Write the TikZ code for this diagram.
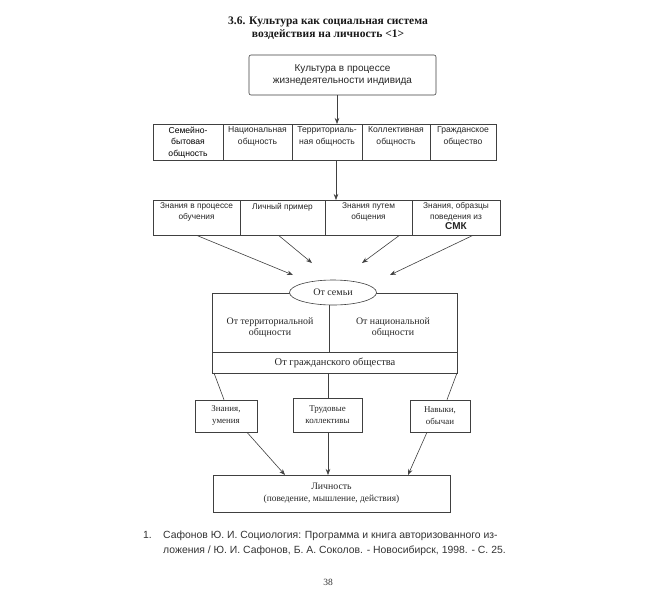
\documentclass[tikz,border=0pt]{standalone}
\usepackage{fontspec}
\setmainfont{Liberation Serif}
\newfontfamily\sansf{Liberation Sans}
\usetikzlibrary{arrows.meta,shapes.geometric}
\begin{document}
\begin{tikzpicture}[x=1pt,y=-1pt,
  ln/.style={draw=black!75,line width=0.6pt},
  arr/.style={ln,-{Stealth[length=6pt,width=4.5pt]}},
  cell/.style={ln,inner sep=0pt},
  sft/.style={font=\sansf\fontsize{8.3}{10.5}\selectfont,align=center,inner sep=0pt,text=black!85,anchor=north},
  srt/.style={font=\fontsize{9.9}{11}\selectfont,align=center,inner sep=0pt,text=black!85},
  kbox/.style={ln,inner sep=0pt,align=center,font=\fontsize{8.9}{12}\selectfont,text=black!85},
]
\useasboundingbox[fill=white] (0,0) rectangle (650,611);

% title
\node[font=\bfseries\fontsize{11.5}{12.5}\selectfont,align=center,inner sep=0pt,text=black!90] (title) at (328,28)
  {3.6. Культура как социальная система\\воздействия на личность <1>};

% top box
\node[ln,rounded corners=2pt,minimum width=187pt,minimum height=40pt,inner sep=0pt,
      font=\sansf\fontsize{10}{12}\selectfont,align=center,text=black!85] (top) at (342.5,75)
  {Культура в процессе\\жизнедеятельности индивида};

% row 1
\node[cell,minimum width=70pt,minimum height=36pt] (r1a) at (188,142) {};
\node[cell,minimum width=69pt,minimum height=36pt] (r1b) at (257.5,142) {};
\node[cell,minimum width=70pt,minimum height=36pt] (r1c) at (327,142) {};
\node[cell,minimum width=68pt,minimum height=36pt] (r1d) at (396,142) {};
\node[cell,minimum width=66pt,minimum height=36pt] (r1e) at (463,142) {};
\node[sft,font=\sansf\fontsize{8.6}{11.5}\selectfont,text=black] (t1a) at ([yshift=-3pt]r1a.north) {Семейно-\\бытовая\\общность};
\node[sft,font=\sansf\fontsize{8.6}{11.5}\selectfont] (t1b) at ([yshift=-3pt]r1b.north) {Национальная\\общность};
\node[sft,font=\sansf\fontsize{8.6}{11.5}\selectfont] (t1c) at ([yshift=-3pt]r1c.north) {Территориаль-\\ная общность};
\node[sft,font=\sansf\fontsize{8.6}{11.5}\selectfont] (t1d) at ([yshift=-3pt]r1d.north) {Коллективная\\общность};
\node[sft,font=\sansf\fontsize{8.6}{11.5}\selectfont] (t1e) at ([yshift=-3pt]r1e.north) {Гражданское\\общество};

% row 2
\node[cell,minimum width=87pt,minimum height=35pt] (r2a) at (196.5,217.5) {};
\node[cell,minimum width=85pt,minimum height=35pt] (r2b) at (282.5,217.5) {};
\node[cell,minimum width=87pt,minimum height=35pt] (r2c) at (368.5,217.5) {};
\node[cell,minimum width=88pt,minimum height=35pt] (r2d) at (456,217.5) {};
\node[sft] (t2a) at ([yshift=-3pt]r2a.north) {Знания в процессе\\обучения};
\node[sft] (t2b) at ([yshift=-3pt]r2b.north) {Личный пример};
\node[sft] (t2c) at ([yshift=-3pt]r2c.north) {Знания путем\\общения};
\node[sft] (t2d) at ([yshift=-3pt]r2d.north) {Знания, образцы\\поведения из\\{\fontsize{10}{12}\selectfont\bfseries СМК}};

% arrows top -> row1 -> row2
\coordinate (a0) at (337,95);
\coordinate (a1) at (337,124);
\coordinate (b0) at (336,160);
\coordinate (b1) at (336,200);
\draw[arr] (a0) -- (a1);
\draw[arr] (b0) -- (b1);

% big box
\node[cell,minimum width=245pt,minimum height=80pt] (big) at (334.5,333) {};
\coordinate (hl) at (212,352);
\coordinate (hr) at (457,352);
\draw[ln] (hl) -- (hr);
\node[ellipse,ln,fill=white,minimum width=87pt,minimum height=25pt,inner sep=0pt,font=\fontsize{10}{11}\selectfont,text=black!85] (fam) at (333,292.5) {От семьи};
\coordinate (vd) at (329,352);
\draw[ln] (fam.south -| vd) -- (vd);
\node[srt] (terr) at (270,328) {От территориальной\\общности};
\node[srt] (nat) at (393,328) {От национальной\\общности};
\node[srt,font=\fontsize{10.5}{11}\selectfont] (civ) at (335,362.5) {От гражданского общества};

% arrows row2 -> ellipse
\coordinate (e1) at (293,275);
\coordinate (e2) at (312,263);
\coordinate (e3) at (362,263);
\coordinate (e4) at (390,275);
\draw[arr] (r2a.south) -- (e1);
\draw[arr] ([xshift=-4pt]r2b.south) -- (e2);
\draw[arr] ([xshift=31pt]r2c.south) -- (e3);
\draw[arr] ([xshift=17pt]r2d.south) -- (e4);

% row 3
\node[kbox,minimum width=62pt,minimum height=32pt] (k1) at (226,416) {Знания,\\умения};
\node[kbox,minimum width=69pt,minimum height=34pt] (k2) at (327.5,415) {Трудовые\\коллективы};
\node[kbox,minimum width=60pt,minimum height=32pt] (k3) at (440,416) {Навыки,\\обычаи};

\coordinate (l1) at (214,373);
\coordinate (l3) at (457,373);
\coordinate (m2) at (328,373);
\draw[ln] (l1) -- ([xshift=-2pt]k1.north);
\draw[ln] (m2) -- (k2.north -| m2);
\draw[ln] (l3) -- ([xshift=7pt]k3.north);

% person box
\node[ln,minimum width=237pt,minimum height=37pt,inner sep=0pt,align=center,text=black!85] (pers) at (331.5,493.5)
  {{\fontsize{9.8}{13}\selectfont Личность}\\{\fontsize{9.4}{11}\selectfont (поведение, мышление, действия)}};
\coordinate (p1) at (285,475);
\coordinate (p2) at (328,475);
\coordinate (p3) at (408,475);
\draw[arr] ([xshift=21pt]k1.south) -- (p1);
\draw[arr] (k2.south -| p2) -- (p2);
\draw[arr] ([xshift=-13pt]k3.south) -- (p3);

% footnote
\node[font=\sansf\fontsize{10.4}{15}\selectfont,anchor=north west,inner sep=0pt,text=black!80] (fn1) at (143,531) {1.};
\node[font=\sansf\fontsize{10.4}{15}\selectfont,anchor=north west,inner sep=0pt,align=left,text=black!80] (fn) at (163,531)
  {Сафонов Ю. И. Социология: Программа и книга авторизованного из-\\ложения / Ю. И. Сафонов, Б. А. Соколов. - Новосибирск, 1998. - С. 25.};
\node[font=\fontsize{9.5}{11}\selectfont,text=black!80,inner sep=0pt] (pg) at (328,582) {38};
\end{tikzpicture}
\end{document}
